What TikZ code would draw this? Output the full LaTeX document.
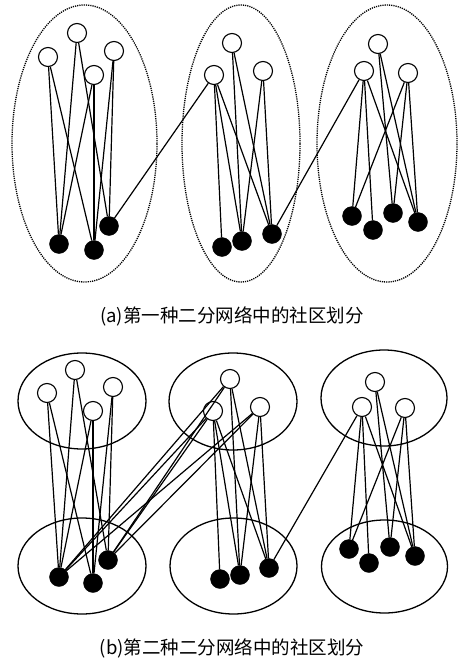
\documentclass[tikz,border=0pt]{standalone}
\usepackage{fontspec}
\newfontfamily\cjk{Noto Sans CJK SC}
\usepackage{tikz}

\begin{document}
\begin{tikzpicture}[x=1pt, y=-1pt,
    wnode/.style={circle, draw, fill=white, line width=1.1pt, minimum size=19pt, inner sep=0pt},
    bnode/.style={circle, draw, fill=black, minimum size=19pt, inner sep=0pt},
    link/.style={line width=1.2pt},
    group/.style={dash pattern=on 1.2pt off 1pt, line width=1.3pt},
    block/.style={line width=1.3pt},
    caption/.style={font=\cjk\fontsize{18.5}{21}\selectfont}]
    \useasboundingbox (0,0) rectangle (459,661);

    % (a) first network
    \draw [group] (84.5,143.5) ellipse [x radius=72.5pt, y radius=138.5pt];
    \draw [group] (241,143.5) ellipse [x radius=59pt, y radius=138.5pt];
    \draw [group] (387,143.5) ellipse [x radius=70pt, y radius=138.5pt];

    \node [wnode] (a-lw1) at (48,57) {};
    \node [wnode] (a-lw2) at (77,33) {};
    \node [wnode] (a-lw3) at (94,75) {};
    \node [wnode] (a-lw4) at (114,51) {};
    \node [bnode] (a-lb1) at (59,244) {};
    \node [bnode] (a-lb2) at (94,250) {};
    \node [bnode] (a-lb3) at (109,226) {};

    \node [wnode] (a-mw1) at (214,75) {};
    \node [wnode] (a-mw2) at (232,43) {};
    \node [wnode] (a-mw3) at (263,71) {};
    \node [bnode] (a-mb1) at (222,247) {};
    \node [bnode] (a-mb2) at (242,241) {};
    \node [bnode] (a-mb3) at (272,234) {};

    \node [wnode] (a-rw1) at (364,71) {};
    \node [wnode] (a-rw2) at (378,44) {};
    \node [wnode] (a-rw3) at (408,73) {};
    \node [bnode] (a-rb1) at (352,216) {};
    \node [bnode] (a-rb2) at (373,230) {};
    \node [bnode] (a-rb3) at (393,213) {};
    \node [bnode] (a-rb4) at (418,222) {};

    \node [caption] (capa) at (232,316) {(a)第一种二分网络中的社区划分};

    % (b) second network
    \draw [block] (82,401) ellipse [x radius=64pt, y radius=48pt];
    \draw [block] (82,566) ellipse [x radius=64pt, y radius=48pt];
    \draw [block] (233,401.5) ellipse [x radius=64pt, y radius=48.5pt];
    \draw [block] (233.5,566) ellipse [x radius=63.5pt, y radius=48pt];
    \draw [block] (384,398) ellipse [x radius=63pt, y radius=48pt];
    \draw [block] (384.5,566.5) ellipse [x radius=63pt, y radius=46.5pt];

    \node [wnode] (b-lw1) at (47,393) {};
    \node [wnode] (b-lw2) at (75,370) {};
    \node [wnode] (b-lw3) at (93,411) {};
    \node [wnode] (b-lw4) at (113,387) {};
    \node [bnode] (b-lb1) at (59,577) {};
    \node [bnode] (b-lb2) at (93,583) {};
    \node [bnode] (b-lb3) at (108,560) {};

    \node [wnode] (b-mw1) at (213,411) {};
    \node [wnode] (b-mw2) at (230,379) {};
    \node [wnode] (b-mw3) at (260,407) {};
    \node [bnode] (b-mb1) at (220,579) {};
    \node [bnode] (b-mb2) at (240,575) {};
    \node [bnode] (b-mb3) at (269,568) {};

    \node [wnode] (b-rw1) at (362,407) {};
    \node [wnode] (b-rw2) at (375,382) {};
    \node [wnode] (b-rw3) at (405,408) {};
    \node [bnode] (b-rb1) at (349,549) {};
    \node [bnode] (b-rb2) at (369,563) {};
    \node [bnode] (b-rb3) at (390,547) {};
    \node [bnode] (b-rb4) at (415,556) {};

    \node [caption] (capb) at (232,648) {(b)第二种二分网络中的社区划分};

    % links shared by both networks
    \foreach \p in {a,b} {
        \foreach \u/\v in {lw1/lb1, lw1/lb2, lw2/lb1, lw2/lb3, lw3/lb1, lw3/lb2, lw4/lb2, lw4/lb3,
                           mw1/mb1, mw1/mb2, mw1/mb3, mw2/mb2, mw2/mb3, mw3/mb2, mw3/mb3,
                           rw1/rb1, rw1/rb2, rw1/rb4, rw2/rb3, rw2/rb4, rw3/rb1, rw3/rb3, rw3/rb4,
                           lb3/mw1, mb3/rw1}
            \draw [link] (\p-\u) -- (\p-\v);
    }

    % extra links of the second network
    \foreach \u/\v in {lb1/mw1, lb1/mw2, lb1/mw3, lb3/mw2, lb3/mw3}
        \draw [link] (b-\u) -- (b-\v);
\end{tikzpicture}
\end{document}
